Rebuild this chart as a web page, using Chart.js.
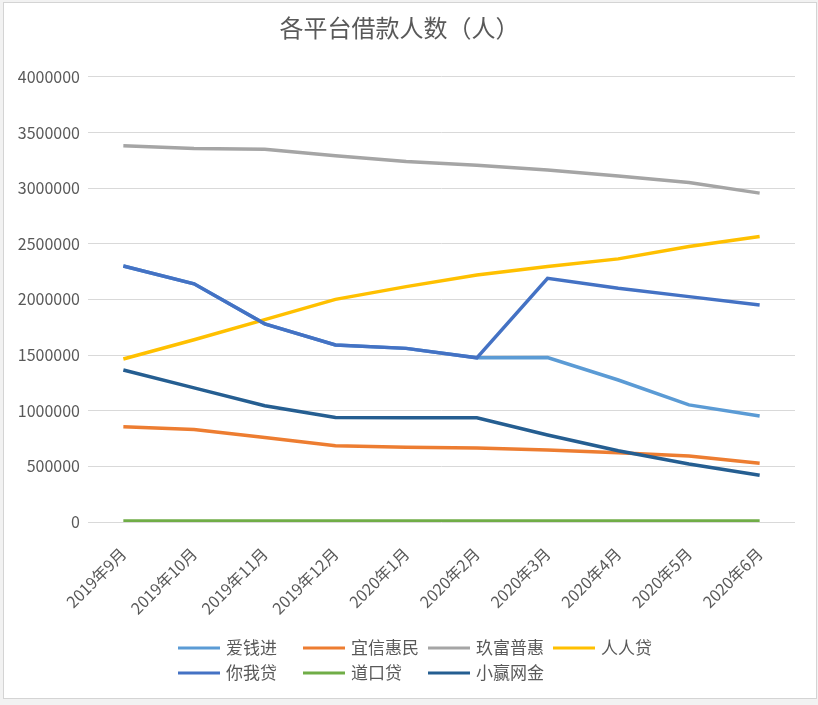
<!DOCTYPE html>
<html>
<head>
<meta charset="utf-8">
<script src="https://cdn.jsdelivr.net/npm/chart.js@4.4.1/dist/chart.umd.min.js"></script>
<style>
html, body { margin: 0; padding: 0; background: #f2f2f2; }
#box { position: absolute; left: 3px; top: 2px; width: 812px; height: 695px; border: 1px solid #d4d4d4; background: #fff; }
canvas { display: block; }
</style>
</head>
<body>
<div id="box"><canvas id="chart" width="812" height="695"></canvas></div>
<script>
var months = ['2019年9月', '2019年10月', '2019年11月', '2019年12月', '2020年1月',
              '2020年2月', '2020年3月', '2020年4月', '2020年5月', '2020年6月'];

var aiqianjin = [2300000, 2140000, 1780000, 1590000, 1560000, 1475000, 1477000, 1276000, 1052000, 953000];
var yixin     = [855000, 830000, 760000, 685000, 672000, 665000, 647000, 622000, 593000, 528000];
var jiufu     = [3380000, 3355000, 3350000, 3290000, 3238000, 3205000, 3162000, 3108000, 3050000, 2955000];
var renrendai = [1465000, 1638000, 1818000, 2000000, 2115000, 2220000, 2295000, 2364000, 2475000, 2565000];
var niwodai   = [2300000, 2140000, 1780000, 1590000, 1560000, 1475000, 2190000, 2100000, 2025000, 1950000];
var daokoudai = [10000, 10000, 10000, 10000, 10000, 10000, 10000, 10000, 10000, 10000];
var xiaoying  = [1366000, 1205000, 1045000, 938000, 937000, 937000, 782000, 640000, 521000, 420000];

var names  = ['爱钱进', '宜信惠民', '玖富普惠', '人人贷', '你我贷', '道口贷', '小赢网金'];
var values = [aiqianjin, yixin, jiufu, renrendai, niwodai, daokoudai, xiaoying];
var colors = ['#5B9BD5', '#ED7D31', '#A5A5A5', '#FFC000', '#4472C4', '#70AD47', '#255E91'];

var yMax = 4000000;
var yStep = 500000;

var textColor = '#595959';
Chart.defaults.font.family = '"Noto Sans CJK SC", "Noto Sans", sans-serif';

// excel style legend: 4 columns, fixed cell width
var legendGrid = {
    id: 'legendGrid',
    afterDraw: function (chart) {
        var ctx = chart.ctx;
        ctx.save();
        ctx.font = '17px "Noto Sans CJK SC"';
        ctx.textBaseline = 'middle';
        ctx.textAlign = 'left';
        chart.data.datasets.forEach(function (ds, i) {
            var x = 174 + (i % 4) * 125;
            var y = 645 + Math.floor(i / 4) * 25;
            ctx.strokeStyle = ds.borderColor;
            ctx.lineWidth = 3;
            ctx.beginPath();
            ctx.moveTo(x, y);
            ctx.lineTo(x + 42, y);
            ctx.stroke();
            ctx.fillStyle = textColor;
            ctx.fillText(ds.label, x + 48, y);
        });
        ctx.restore();
    }
};

var datasets = names.map(function (name, i) {
    return {
        label: name,
        data: values[i],
        borderColor: colors[i],
        backgroundColor: colors[i],
        borderWidth: 3.5,
        pointRadius: 0,
        tension: 0,
        fill: false,
        order: -i   // later series on top, like excel
    };
});

var myChart = new Chart(document.getElementById('chart'), {
    type: 'line',
    data: { labels: months, datasets: datasets },
    options: {
        responsive: false,
        animation: false,
        layout: { padding: { left: 0, right: 21, top: 0, bottom: 71 } },
        plugins: {
            legend: { display: false },
            tooltip: { enabled: false },
            title: {
                display: true,
                text: '各平台借款人数（人）',
                color: textColor,
                font: { size: 24, weight: 'normal' },
                padding: { top: 10, bottom: 35 }
            }
        },
        scales: {
            x: {
                offset: true,
                grid: { display: false },
                border: { display: false },
                ticks: {
                    color: textColor,
                    font: { size: 16 },
                    maxRotation: 45,
                    minRotation: 45,
                    padding: 14,
                    autoSkip: false
                },
                afterFit: function (scale) { scale.height = 105; }
            },
            y: {
                min: 0,
                max: yMax,
                grid: { color: '#d9d9d9', drawTicks: false },
                border: { display: false },
                ticks: {
                    stepSize: yStep,
                    color: textColor,
                    font: { size: 16 },
                    padding: 8,
                    callback: function (v) { return String(v); }
                },
                afterFit: function (scale) { scale.width = 84; }
            }
        }
    },
    plugins: [legendGrid]
});
</script>
</body>
</html>
